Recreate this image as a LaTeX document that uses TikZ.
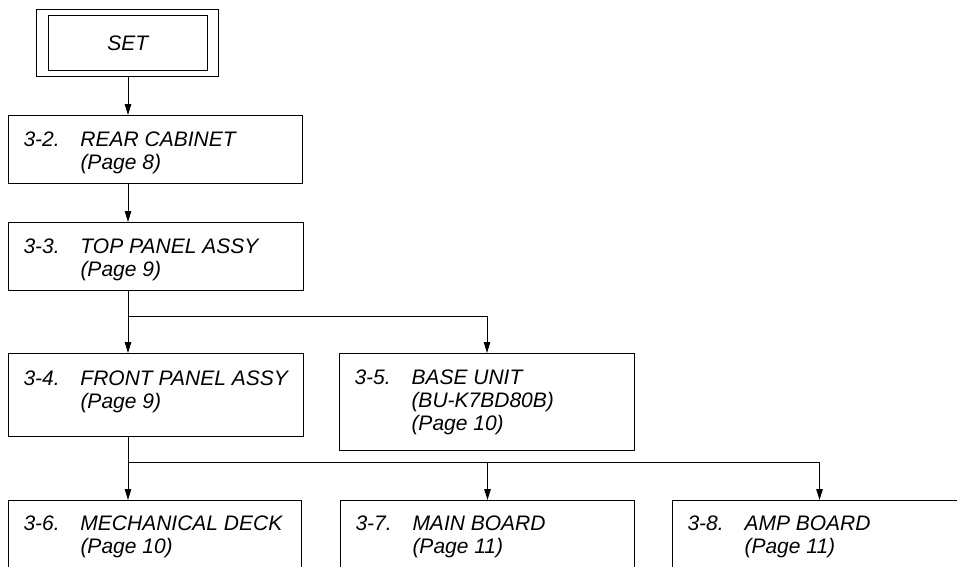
\documentclass[tikz,border=0pt]{standalone}
\usepackage{fontspec}
\setmainfont{Liberation Sans}
\usetikzlibrary{arrows.meta}
\newcommand{\partno}[1]{\makebox[57pt][l]{#1}}
\newcommand{\pind}{\hspace*{57pt}}
\begin{document}
\begin{tikzpicture}[x=1pt,y=-1pt,line width=1pt,
  box/.style={draw,inner sep=0pt,anchor=north west,minimum width=295pt},
  lbl/.style={anchor=base west,align=left,inner sep=0pt,font=\fontsize{21}{23}\selectfont\itshape},
  arr/.style={-{Triangle[length=11pt,width=6.5pt]}}]
  \clip (0,0) rectangle (957,566);
  % set
  \node[draw,inner sep=0pt,minimum width=181.5pt,minimum height=67.5pt] (set) at (127.5,43) {};
  \node[draw,inner sep=0pt,minimum width=159pt,minimum height=55pt,font=\fontsize{21}{23}\selectfont\itshape] (set-in) at (127.8,43.2) {SET};
  % boxes
  \node[box,minimum width=294pt,minimum height=68pt] (rear) at (8,115) {};
  \node[box,minimum height=68pt] (top) at (8,222) {};
  \node[box,minimum height=83pt] (front) at (8,353) {};
  \node[box,minimum height=97pt] (base) at (339,353) {};
  \node[box,minimum width=293pt,minimum height=100pt] (mech) at (8,500) {};
  \node[box,minimum width=294pt,minimum height=100pt] (main) at (340,500) {};
  \node[box,minimum width=294pt,minimum height=100pt] (amp) at (672,500) {};
  % texts (base = last line)
  \node[lbl] (rear-t) at ([shift={(15,54)}]rear.north west) {\partno{3-2.}REAR CABINET\\\pind(Page 8)};
  \node[lbl] (top-t) at ([shift={(15,54)}]top.north west) {\partno{3-3.}TOP PANEL ASSY\\\pind(Page 9)};
  \node[lbl] (front-t) at ([shift={(15,55)}]front.north west) {\partno{3-4.}FRONT PANEL ASSY\\\pind(Page 9)};
  \node[lbl] (base-t) at ([shift={(15,77)}]base.north west) {\partno{3-5.}BASE UNIT\\\pind(BU-K7BD80B)\\\pind(Page 10)};
  \node[lbl] (mech-t) at ([shift={(15,53)}]mech.north west) {\partno{3-6.}MECHANICAL DECK\\\pind(Page 10)};
  \node[lbl] (main-t) at ([shift={(15,53)}]main.north west) {\partno{3-7.}MAIN BOARD\\\pind(Page 11)};
  \node[lbl] (amp-t) at ([shift={(15,53)}]amp.north west) {\partno{3-8.}AMP BOARD\\\pind(Page 11)};
  % joints
  \coordinate (j1) at (128,316);
  \coordinate (j2) at (128,462);
  % connectors
  \draw[arr] (j1 |- set.south) -- (j1 |- rear.north);
  \draw[arr] (j1 |- rear.south) -- (j1 |- top.north);
  \draw (j1 |- top.south) -- (j1);
  \draw[arr] (j1) -- (j1 |- front.north);
  \draw[arr] (j1) -| (base.north);
  \draw (j1 |- front.south) -- (j2);
  \draw[arr] (j2) -- (j2 |- mech.north);
  \draw[arr] (j2) -| (main.north);
  \draw[arr] (j2) -| (amp.north);
\end{tikzpicture}
\end{document}
